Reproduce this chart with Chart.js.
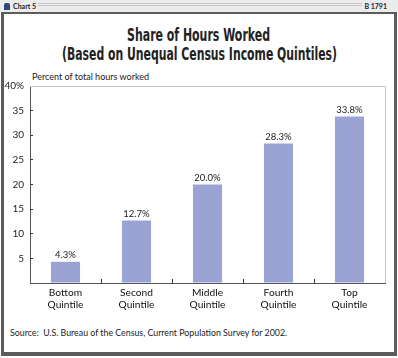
<!DOCTYPE html>
<html>
<head>
<meta charset="utf-8">
<script src="https://cdn.jsdelivr.net/npm/chart.js@4.4.0/dist/chart.umd.min.js"></script>
<style>
  html, body { margin: 0; padding: 0; background: #fff; }
  body { width: 398px; height: 358px; position: relative; overflow: hidden; font-family: Lato, "Open Sans", sans-serif; color: #222; }
  #header { position: absolute; left: 0; top: 0; width: 398px; height: 12px; background: #ececec; }
  #header .ln { position: absolute; left: 38px; right: 36px; height: 1px; background: #c8c8c8; }
  #header .icon { position: absolute; left: 4px; top: 3px; width: 6px; height: 7px; background: #2b4a7a; border-radius: 2px 2px 0 0; }
  #header .l { position: absolute; left: 13px; top: 1px; font: bold 7px Lato, sans-serif; color: #222; line-height: 10px; }
  #header .r { position: absolute; right: 11px; top: 1px; font: bold 7px Lato, sans-serif; color: #1c1c44; line-height: 10px; }
  #frame { position: absolute; left: 1px; top: 12px; width: 390px; height: 338px; border: 3px solid #5c5c5c; border-top-width: 2px; border-bottom-width: 4px; }
  #title { position: absolute; left: -151px; width: 700px; top: 25px; text-align: center; font-family: "DejaVu Sans", sans-serif; font-weight: bold; font-size: 18.5px; font-stretch: condensed; line-height: 19px; color: #222; white-space: nowrap; }
  #title span { display: inline-block; transform-origin: center; }
  #ytitle { position: absolute; left: 32px; top: 71px; font: 9px Lato, sans-serif; color: #222; line-height: 12px; }
  #source { position: absolute; left: 10px; top: 327px; font: 8.8px Lato, sans-serif; color: #222; line-height: 12px; white-space: pre; }
  #c { position: absolute; left: 0; top: 0; }
</style>
</head>
<body>
<div id="header"><div class="ln" style="top:3px"></div><div class="ln" style="top:5px"></div><div class="icon"></div><div class="l">Chart 5</div><div class="r">B 1791</div></div>
<div id="frame"></div>
<div id="title"><span id="t1">Share of Hours Worked</span><br><span id="t2">(Based on Unequal Census Income Quintiles)</span></div>
<div id="ytitle">Percent of total hours worked</div>
<div id="source">Source:  U.S. Bureau of the Census, Current Population Survey for 2002.</div>
<canvas id="c" width="398" height="358"></canvas>
<script>
const categories = [["Bottom", "Quintile"], ["Second", "Quintile"], ["Middle", "Quintile"], ["Fourth", "Quintile"], ["Top", "Quintile"]];
const shareOfHours = [4.3, 12.7, 20.0, 28.3, 33.8];
const yTicks = [0, 5, 10, 15, 20, 25, 30, 35, 40];

// fit the condensed title lines to the reference widths
(function () {
  [['t1', 143], ['t2', 275]].forEach(([id, target]) => {
    const el = document.getElementById(id);
    const w = el.getBoundingClientRect().width;
    el.style.transform = 'scaleX(' + Math.min(1, target / w) + ')';
  });
})();

const areaBorder = {
  id: 'areaBorder',
  beforeDatasetsDraw(chart) {
    const { ctx, chartArea: a } = chart;
    ctx.save();
    ctx.strokeStyle = '#c4c4c4';
    ctx.lineWidth = 1;
    ctx.beginPath();
    ctx.moveTo(a.left, Math.floor(a.top) + 0.5);
    ctx.lineTo(Math.floor(a.right) + 0.5, Math.floor(a.top) + 0.5);
    ctx.lineTo(Math.floor(a.right) + 0.5, a.bottom);
    ctx.stroke();
    ctx.restore();
  }
};

const valueLabels = {
  id: 'valueLabels',
  afterDatasetsDraw(chart) {
    const { ctx } = chart;
    const meta = chart.getDatasetMeta(0);
    ctx.save();
    ctx.font = '9.5px Lato, sans-serif';
    ctx.fillStyle = '#222';
    ctx.textAlign = 'center';
    ctx.textBaseline = 'bottom';
    meta.data.forEach((bar, i) => {
      ctx.fillText(shareOfHours[i].toFixed(1) + '%', bar.x, bar.y - 2);
    });
    ctx.restore();
  }
};

new Chart(document.getElementById('c'), {
  type: 'bar',
  data: {
    labels: categories,
    datasets: [{
      data: shareOfHours,
      backgroundColor: '#9ba3d4',
      borderWidth: 0,
      barPercentage: 0.41,
      categoryPercentage: 1.0
    }]
  },
  options: {
    responsive: false,
    animation: false,
    events: [],
    layout: { padding: { left: 0, right: 13, top: 86, bottom: 0 } },
    plugins: { legend: { display: false }, tooltip: { enabled: false }, title: { display: false } },
    scales: {
      x: {
        afterFit(s) { s.height = 75; },
        grid: {
          drawOnChartArea: false,
          offset: true,
          tickLength: -4,
          color: (c) => (c.index === 0 || c.index === categories.length) ? 'rgba(0,0,0,0)' : '#333'
        },
        border: { display: true, color: '#555', width: 1 },
        ticks: { color: '#111', font: { family: 'Lato, sans-serif', size: 10.2, lineHeight: 1.15 }, padding: 8, maxRotation: 0, autoSkip: false }
      },
      y: {
        min: 0, max: 40,
        afterFit(s) { s.width = 30; },
        afterBuildTicks(s) { s.ticks = yTicks.map(v => ({ value: v })); },
        grid: { drawOnChartArea: false, tickLength: -3, color: '#333' },
        border: { display: true, color: '#555', width: 1 },
        ticks: {
          color: '#222',
          font: { family: 'Lato, sans-serif', size: 10 },
          padding: 9,
          callback: (v) => v === 0 ? '' : (v === 40 ? v + '%' : String(v))
        }
      }
    }
  },
  plugins: [areaBorder, valueLabels]
});
</script>
</body>
</html>
